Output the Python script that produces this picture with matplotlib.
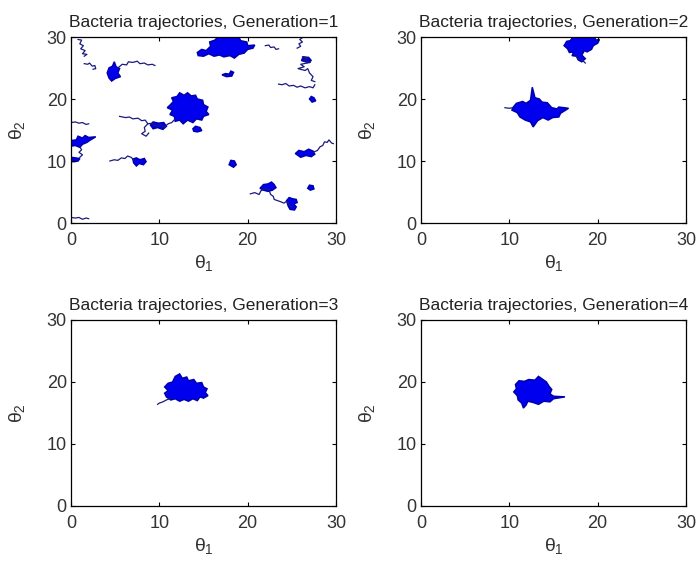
import numpy as np
import matplotlib
matplotlib.use('Agg')
import matplotlib.pyplot as plt

plt.rcParams['font.family'] = ['Liberation Sans', 'DejaVu Sans']
plt.rcParams['mathtext.fontset'] = 'custom'
plt.rcParams['mathtext.rm'] = 'Liberation Sans'
plt.rcParams['mathtext.it'] = 'Liberation Sans'

# 每一代的軌跡 (從圖上讀出的近似座標)
# blobs: 密集區域的外框, trails: 單條軌跡
g1_blobs = [
    [(11.2,19.0),(11.6,19.6),(11.4,20.2),(12.0,20.4),(12.3,21.0),(12.8,20.6),(13.2,21.0),(13.6,20.5),(14.1,20.6),(14.3,20.0),
     (14.9,19.8),(15.0,19.1),(15.5,18.7),(15.3,18.0),(15.6,17.5),(15.0,17.2),(14.8,16.6),(14.2,16.8),(13.8,16.2),(13.2,16.6),
     (12.7,16.0),(12.3,16.6),(11.8,16.4),(11.7,17.2),(11.2,17.5),(11.5,18.2),(10.9,18.6)],
    [(14.3,27.5),(14.8,28.0),(15.3,27.8),(15.8,28.5),(15.7,29.2),(16.3,29.5),(16.6,30.0),(19.0,30.0),(19.2,29.4),(19.9,29.2),
     (20.0,28.6),(20.8,28.7),(20.6,28.2),(20.0,28.0),(19.6,27.4),(19.0,27.2),(18.5,26.6),(18.0,27.0),(17.3,26.8),(16.8,27.1),
     (16.2,26.9),(15.6,27.3),(15.0,26.9),(14.4,27.0)],
    [(9.0,15.8),(9.3,16.3),(9.9,16.1),(10.5,16.2),(10.8,15.6),(10.4,15.1),(9.8,15.4),(9.3,15.2)],
    [(13.8,15.2),(14.1,15.6),(14.6,15.4),(14.8,14.9),(14.3,14.7),(13.9,14.8)],
    [(17.1,23.9),(17.5,24.1),(17.9,24.0),(18.1,24.5),(18.4,24.3),(18.2,23.7),(17.6,23.6)],
    [(4.1,24.2),(4.3,25.0),(4.7,25.3),(4.9,26.0),(5.1,25.2),(5.5,24.9),(5.3,24.2),(5.6,23.6),(5.0,23.3),(4.6,22.9),(4.3,23.4)],
    [(0.0,12.4),(0.0,13.3),(0.6,13.4),(0.8,14.0),(1.3,13.7),(1.6,14.1),(2.0,13.8),(2.8,13.9),(2.2,13.4),(1.8,13.0),
     (1.3,12.7),(1.0,12.2),(0.5,12.5)],
    [(0.0,9.9),(0.0,10.6),(0.5,10.5),(1.0,10.4),(0.8,10.0),(0.4,9.9)],
    [(7.0,10.3),(7.4,10.5),(7.8,10.2),(8.3,10.4),(8.5,9.9),(8.2,9.4),(7.7,9.6),(7.4,9.2),(7.1,9.7)],
    [(17.9,9.4),(18.1,10.1),(18.5,10.0),(18.7,9.4),(18.4,9.0)],
    [(25.4,11.2),(25.8,11.7),(26.4,11.5),(26.9,11.9),(27.4,11.6),(27.6,11.1),(27.2,10.7),(26.6,10.9),(26.0,10.6)],
    [(26.8,5.6),(27.0,6.1),(27.4,6.0),(27.5,5.5),(27.1,5.3)],
    [(21.4,5.6),(21.8,6.2),(22.3,6.3),(22.7,6.6),(23.0,6.2),(23.2,5.7),(22.8,5.3),(22.3,5.1),(21.8,5.3)],
    [(24.4,3.6),(24.7,4.1),(25.1,3.9),(25.5,3.8),(25.6,3.3),(25.2,3.1),(25.5,2.6),(25.3,2.1),(24.8,2.2),(24.6,2.7)],
    [(27.0,20.0),(27.2,20.4),(27.5,20.2),(27.7,19.7),(27.3,19.5)],
    [(26.1,26.2),(26.3,26.8),(26.9,26.7),(27.2,26.2),(26.8,25.9)],
]
g1_trails = [
    [(5.5,17.2),(6.2,17.0),(6.6,17.1),(7.0,16.8),(7.6,16.9),(8.0,16.5),(8.4,16.6),(8.7,16.0),(9.2,16.1),(9.6,15.6),
     (10.2,15.8),(10.5,15.4),(11.0,16.0),(11.4,16.2),(11.8,16.8)],
    [(8.7,16.0),(8.3,15.4),(8.4,14.8),(8.0,14.4),(8.5,14.0),(8.8,14.5)],
    [(22.0,28.6),(22.4,28.7),(22.6,28.3),(23.0,28.4),(23.2,28.0),(23.5,28.1)],
    [(0.8,29.6),(1.2,29.5),(1.0,28.9),(1.4,28.6),(1.1,28.1),(1.6,27.8),(1.3,27.3),(1.8,27.2),(1.5,26.9)],
    [(1.5,25.7),(1.9,25.6),(2.1,25.8),(2.4,25.3),(2.7,25.4),(2.8,24.9),(2.5,24.8)],
    [(5.3,25.0),(5.8,25.6),(6.3,25.5),(6.5,26.0),(7.0,25.9),(7.5,26.1),(7.8,25.7),(8.3,25.8),(8.7,25.5),(9.2,25.6),(9.5,25.4)],
    [(0.0,16.2),(0.5,16.3),(0.9,16.1),(1.3,16.2),(1.7,15.9),(2.0,16.0)],
    [(1.0,12.3),(1.2,11.8),(0.9,11.4),(1.3,11.0),(1.0,10.6)],
    [(4.4,10.0),(4.9,10.2),(5.3,10.1),(5.7,10.5),(6.1,10.4),(6.4,10.8),(6.8,10.6),(7.1,10.2)],
    [(0.0,0.9),(0.5,0.8),(0.9,0.9),(1.3,0.6),(1.7,0.8),(2.0,0.7)],
    [(27.4,11.4),(27.9,11.7),(28.2,12.3),(28.5,12.5),(28.7,13.1),(29.0,13.0),(29.2,13.4),(29.5,12.9),(29.7,12.8)],
    [(20.3,4.7),(20.8,4.9),(21.3,4.6),(21.5,5.2),(22.0,5.5),(22.4,5.4),(22.6,4.6),(22.9,4.3),(23.0,3.8),(23.4,3.6),
     (23.8,3.4),(24.1,3.2),(24.4,3.5),(24.7,3.0),(25.0,2.5)],
    [(23.5,22.4),(23.9,22.3),(24.3,22.5),(24.7,22.1),(25.2,22.2),(25.6,21.9),(26.0,22.1),(26.5,21.8),(27.0,22.0),(27.4,21.8),(27.6,22.3)],
    [(26.2,26.8),(26.8,26.6),(26.3,26.2),(27.1,25.9),(26.0,25.6),(26.4,25.2),(25.7,24.9),(26.5,24.6),(26.8,24.9),(27.0,24.2),
     (27.4,23.6),(27.2,23.0),(27.6,22.8)],
    [(26.2,29.9),(25.9,29.6),(26.2,29.2),(25.8,28.9),(26.0,28.5),(25.6,28.2)],
]
g2_blobs = [
    [(16.2,28.6),(16.5,29.3),(16.9,29.4),(17.2,30.0),(19.6,30.0),(19.8,29.5),(20.2,29.6),(20.0,29.0),(19.5,28.6),(19.3,28.0),
     (18.8,27.6),(18.5,27.8),(18.2,27.1),(18.6,26.5),(18.2,26.0),(17.8,26.3),(17.6,26.9),(17.1,27.0),(17.3,27.6),(16.8,27.5),
     (16.6,28.1)],
    [(10.4,18.6),(10.8,19.3),(11.5,19.6),(11.9,19.3),(12.4,19.8),(12.6,21.9),(12.9,20.2),(13.4,20.0),(13.7,19.5),(14.3,19.4),
     (14.8,18.6),(15.4,18.4),(15.6,18.7),(16.7,18.5),(15.8,17.7),(15.6,17.1),(14.9,17.0),(14.4,16.6),(13.8,17.0),(13.2,16.5),
     (12.7,15.5),(12.4,16.3),(11.8,16.6),(11.2,17.1),(10.9,17.8),(10.3,18.2)],
]
g2_trails = [
    [(17.6,26.9),(17.8,26.4),(18.3,26.2),(18.6,25.8)],
    [(9.5,18.6),(10.0,18.5),(10.4,18.6)],
]
g3_blobs = [
    [(10.8,17.6),(10.6,18.2),(11.0,18.6),(10.6,19.2),(11.0,19.8),(11.5,20.0),(11.8,20.9),(12.3,21.3),(12.6,20.6),(13.1,20.8),
     (13.3,20.2),(13.9,20.4),(14.2,19.8),(14.8,19.9),(15.0,19.2),(15.4,18.9),(15.2,18.3),(15.5,17.8),(15.0,17.4),(14.6,17.6),
     (14.3,17.0),(13.8,17.3),(13.3,16.9),(12.8,17.2),(12.3,16.9),(11.8,17.3),(11.3,17.1)],
]
g3_trails = [
    [(11.3,17.4),(10.8,17.1),(10.4,16.8),(10.0,16.6),(9.8,16.4)],
]
g4_blobs = [
    [(10.7,19.6),(11.1,20.2),(11.7,20.1),(12.2,20.4),(12.9,20.3),(13.3,20.9),(13.7,20.5),(14.2,20.0),(14.5,19.3),(14.8,18.8),
     (14.6,18.1),(15.0,17.7),(16.3,17.6),(15.0,17.3),(14.6,16.8),(13.9,16.9),(13.3,16.4),(12.7,16.7),(12.1,16.9),(11.9,16.3),
     (11.6,15.8),(11.4,16.6),(11.0,17.1),(10.9,17.8),(10.5,18.4),(10.8,18.9)],
]
g4_trails = []

generations = [1, 2, 3, 4]
panels = [(g1_blobs, g1_trails), (g2_blobs, g2_trails), (g3_blobs, g3_trails), (g4_blobs, g4_trails)]

W, H = 696, 566
lefts = [71, 421, 71, 421]
bottoms = [223, 223, 506, 506]

fig = plt.figure(figsize=(W / 100, H / 100), dpi=100)
for i in range(4):
    ax = fig.add_axes([lefts[i] / W, 1 - bottoms[i] / H, 265 / W, 186 / H])
    blobs, trails = panels[i]
    for b in blobs:
        b = np.array(b)
        ax.fill(b[:, 0], b[:, 1], color='#0000ee', ec='#0000b0', lw=1.1)
    for t in trails:
        t = np.array(t)
        ax.plot(t[:, 0], t[:, 1], color='#1a1a80', lw=0.9)
    ax.set_xlim(0, 30)
    ax.set_ylim(0, 30)
    ax.set_xticks([0, 10, 20, 30])
    ax.set_yticks([0, 10, 20, 30])
    ax.tick_params(direction='in', length=3, width=0.8, top=True, right=True, labelsize=13,
                   labelcolor='#333333')
    ax.tick_params(axis='x', pad=6.5)
    ax.tick_params(axis='y', pad=3)
    for s in ax.spines.values():
        s.set_linewidth(0.9)
    ax.set_title('Bacteria trajectories, Generation=%d' % generations[i], fontsize=12.5, pad=7, color='#222222')
    ax.set_xlabel(r'$\theta_1$', fontsize=14, labelpad=3, color='#333333')
    ax.set_ylabel(r'$\theta_2$', fontsize=14, labelpad=14, color='#333333')

fig.savefig('out.png', dpi=100)
